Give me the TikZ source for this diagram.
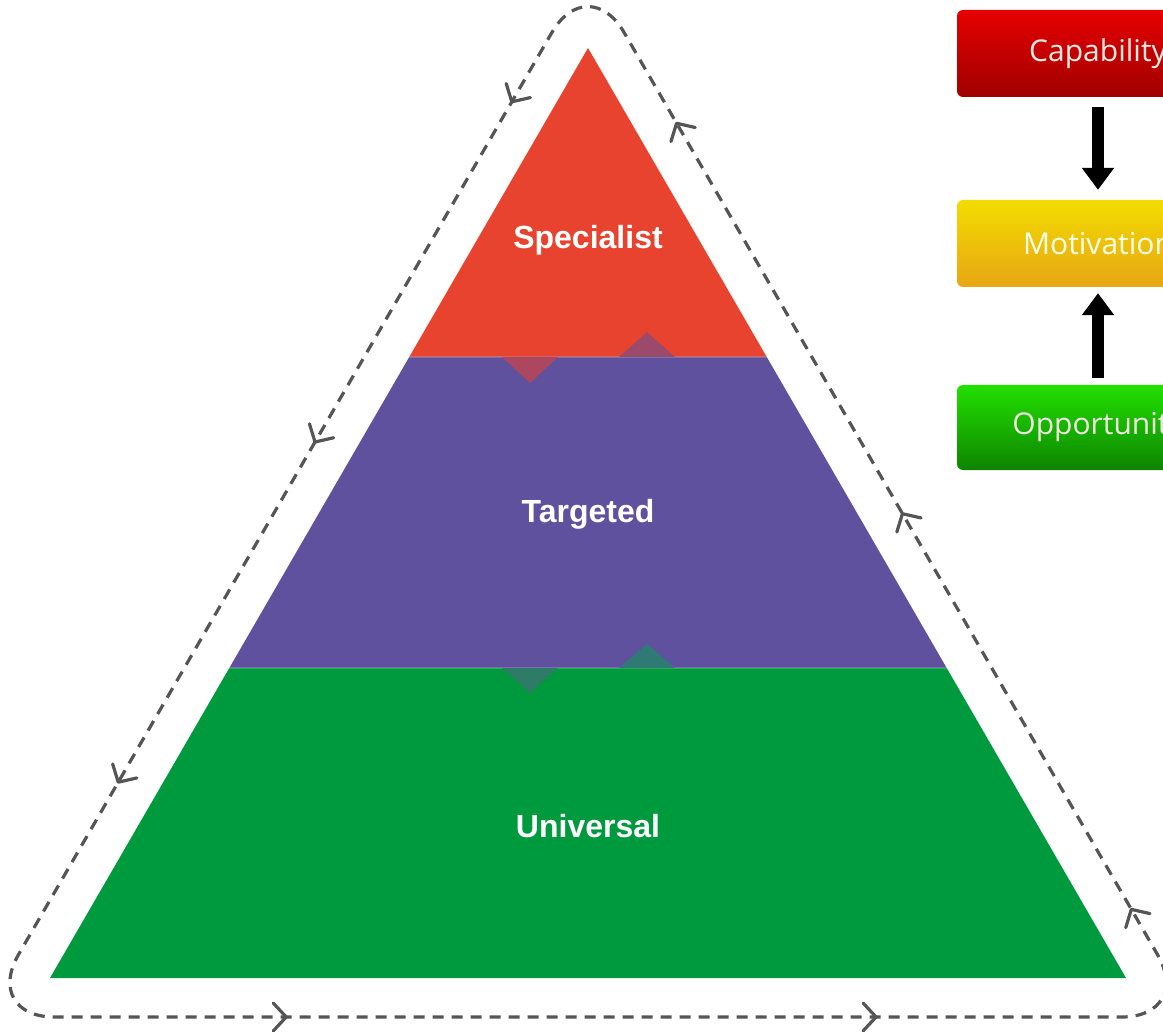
\documentclass[tikz,border=0pt]{standalone}
\usepackage{fontspec}
\setmainfont{Liberation Sans}
\newfontfamily\boxfont{Open Sans}
\usetikzlibrary{arrows.meta,decorations.markings}
\definecolor{pyred}{HTML}{E8432E}
\definecolor{pypurple}{HTML}{5F519E}
\definecolor{pygreen}{HTML}{009A3E}
\definecolor{dmA}{HTML}{AD4760}
\definecolor{dmB}{HTML}{9C4A6C}
\definecolor{dmC}{HTML}{2E7C68}
\definecolor{dmD}{HTML}{2F7A74}
\definecolor{dashgrey}{HTML}{555555}
\definecolor{capTop}{HTML}{E60000}
\definecolor{capBot}{HTML}{A00000}
\definecolor{motTop}{HTML}{F2DC00}
\definecolor{motBot}{HTML}{E8A614}
\definecolor{oppTop}{HTML}{22E000}
\definecolor{oppBot}{HTML}{0E8400}
\definecolor{boxtext}{HTML}{EFEBE3}
\newcommand{\barbmark}{\draw[dashgrey, line width=3.2pt, line cap=round, line join=round]
  (-12pt,-14pt) -- (1pt,0pt) -- (-12pt,14pt);}
\tikzset{
  layerlabel/.style={text=white, font=\bfseries\fontsize{32}{38}\selectfont},
  cyclepath/.style={draw=dashgrey, line width=3.2pt, dash pattern=on 11pt off 8pt, rounded corners=72pt},
  cyclemarks/.style={decorate, decoration={markings, #1}},
  cbox/.style={rounded corners=6pt, minimum width=282pt, minimum height=87pt, inner sep=0pt,
    font=\boxfont\fontsize{30}{36}\selectfont, text=boxtext},
  bigarrow/.style={draw=black, line width=12pt, -{Triangle[width=31pt,length=22pt]}}
}
\begin{document}
\begin{tikzpicture}[x=1pt,y=-1pt]
\useasboundingbox (0,0) rectangle (1163,1032);
\clip (0,0) rectangle (1163,1032);
\fill[white] (0,0) rectangle (1163,1032);

% pyramid layers
\fill[pyred] (588,48) -- (766.75,357) -- (409.25,357) -- cycle;
\fill[pypurple] (409.25,357) -- (766.75,357) -- (946.7,668) -- (229.3,668) -- cycle;
\fill[pygreen] (229.3,668) -- (946.7,668) -- (1126,978) -- (50,978) -- cycle;
\draw[white, opacity=0.18, line width=1.5pt] (409.25,357) -- (766.75,357);
\draw[white, opacity=0.18, line width=1.5pt] (229.3,668) -- (946.7,668);

% half diamonds at the boundaries
\fill[dmA] (502,357) -- (558,357) -- (530,383) -- cycle;
\fill[dmB] (619,357) -- (675,357) -- (647,332) -- cycle;
\fill[dmC] (502,668) -- (558,668) -- (530,693) -- cycle;
\fill[dmD] (619,668) -- (675,668) -- (647,644) -- cycle;

% labels
\node[layerlabel] (spec) at (588,240) {Specialist};
\node[layerlabel] (targ) at (588,514) {Targeted};
\node[layerlabel] (univ) at (588,826) {Universal};

% dashed cycle
\coordinate (pA) at (588,-29.9);
\coordinate (pB) at (-17.6,1017);
\coordinate (pC) at (1193.6,1017);
\coordinate (pM) at (890.8,493.5);
\draw[cyclepath] (pM) -- (pA) -- (pB) -- (pC) -- cycle;
\path[cyclemarks={mark=at position 0.125 with {\barbmark},
                  mark=at position 0.45 with {\barbmark},
                  mark=at position 0.775 with {\barbmark}}] (pA) -- (pB);
\path[cyclemarks={mark=at position 0.25 with {\barbmark},
                  mark=at position 0.737 with {\barbmark}}] (pB) -- (pC);
\path[cyclemarks={mark=at position 0.102 with {\barbmark},
                  mark=at position 0.48 with {\barbmark},
                  mark=at position 0.853 with {\barbmark}}] (pC) -- (pA);

% right-hand boxes
\node[cbox, top color=capTop, bottom color=capBot] (cap) at (1098,53.5) {Capability};
\node[cbox, top color=motTop, bottom color=motBot, text=white!92!yellow] (mot) at (1098,243.5) {Motivation};
\node[cbox, minimum height=85pt, top color=oppTop, bottom color=oppBot] (opp) at (1098,427.5) {Opportunity};

\draw[bigarrow, shorten <=10pt, shorten >=10pt] (cap) -- (mot);
\draw[bigarrow, shorten <=7pt, shorten >=6pt] (opp) -- (mot);
\end{tikzpicture}
\end{document}
